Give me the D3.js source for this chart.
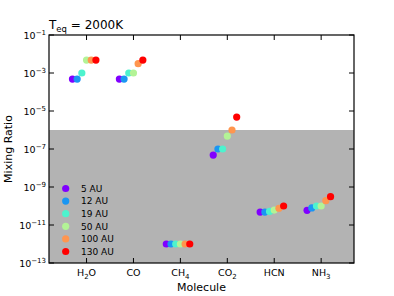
<!DOCTYPE html>
<html><head><meta charset="utf-8">
<script src="https://cdn.jsdelivr.net/npm/d3@7"></script>
<style>body{margin:0;background:#fff}svg{display:block;font-family:"DejaVu Sans",sans-serif}</style>
</head><body><svg id="c" width="394" height="296"></svg>
<script>
const molecules = ["H2O","CO","CH4","CO2","HCN","NH3"];
const moleculeLabels = [["H","2","O"],["CO","",""],["CH","4",""],["CO","2",""],["HCN","",""],["NH","3",""]];
const distances = ["5 AU","12 AU","19 AU","50 AU","100 AU","130 AU"];
const colors = ["#8000ff","#1a96f3","#4df3ce","#b3f396","#ff964f","#ff0000"];
const offsets = [-0.3,-0.2,-0.1,0,0.1,0.2];
const au5   = [4.8e-4, 4.8e-4, 1e-12, 4.8e-8, 4.8e-11, 5.9e-11];
const au12  = [4.8e-4, 4.8e-4, 1e-12, 1e-7,   4.8e-11, 7.9e-11];
const au19  = [1e-3,   1e-3,   1e-12, 1e-7,   5.2e-11, 1e-10];
const au50  = [4.8e-3, 1e-3,   1e-12, 4.8e-7, 6.1e-11, 1e-10];
const au100 = [4.8e-3, 3.1e-3, 1e-12, 1e-6,   7.6e-11, 1.9e-10];
const au130 = [4.8e-3, 4.8e-3, 1e-12, 4.8e-6, 1e-10,   3.1e-10];
const series = [au5, au12, au19, au50, au100, au130];
const yTicks = [1e-1,1e-3,1e-5,1e-7,1e-9,1e-11,1e-13];
const yTickExp = ["−1","−3","−5","−7","−9","−11","−13"];
const shadeTop = 1e-6;

const L=49,R=354,T=35,B=263;
const svg = d3.select("#c");
const x = d3.scaleLinear().domain([-0.8,5.7]).range([L,R]);
const y = d3.scaleLog().domain([1e-13,1e-1]).range([B,T]);

svg.append("rect").attr("x",L).attr("y",y(shadeTop)).attr("width",R-L).attr("height",B-y(shadeTop)).attr("fill","#b3b3b3");

// points
series.forEach((vals,si)=>{
  svg.append("g").selectAll("circle").data(vals).join("circle")
    .attr("cx",(d,i)=>x(i+offsets[si])).attr("cy",d=>y(d)).attr("r",3.6)
    .attr("fill",colors[si]);
});

// ticks inward on all sides
const tl=5;
const g = svg.append("g").attr("stroke","#000").attr("stroke-width",1);
molecules.forEach((m,i)=>{
  g.append("line").attr("x1",x(i)).attr("x2",x(i)).attr("y1",B).attr("y2",B-tl);
  g.append("line").attr("x1",x(i)).attr("x2",x(i)).attr("y1",T).attr("y2",T+tl);
});
yTicks.forEach(t=>{
  g.append("line").attr("x1",L).attr("x2",L+tl).attr("y1",y(t)).attr("y2",y(t));
  g.append("line").attr("x1",R).attr("x2",R-tl).attr("y1",y(t)).attr("y2",y(t));
});
svg.append("rect").attr("x",L).attr("y",T).attr("width",R-L).attr("height",B-T).attr("fill","none").attr("stroke","#000").attr("stroke-width",1.2);

// y tick labels
yTicks.forEach((t,i)=>{
  const tx = svg.append("text").attr("x",L-3).attr("y",y(t)+4).attr("text-anchor","end").attr("font-size",9.5).attr("fill","#000");
  tx.append("tspan").text("10");
  tx.append("tspan").attr("font-size",7).attr("dy",-4.5).text(yTickExp[i]);
});

// x tick labels
moleculeLabels.forEach((lab,i)=>{
  const tx = svg.append("text").attr("x",x(i)).attr("y",B+13).attr("text-anchor","middle").attr("font-size",9.5).attr("fill","#000");
  tx.append("tspan").text(lab[0]);
  if(lab[1]){ tx.append("tspan").attr("font-size",7).attr("dy",2.5).text(lab[1]);
    if(lab[2]) tx.append("tspan").attr("font-size",9.5).attr("dy",-2.5).text(lab[2]); }
});

// axis labels
svg.append("text").attr("x",(L+R)/2).attr("y",291).attr("text-anchor","middle").attr("font-size",11).text("Molecule");
svg.append("text").attr("transform",`translate(12,${(T+B)/2}) rotate(-90)`).attr("text-anchor","middle").attr("font-size",11).text("Mixing Ratio");

// title
const tt = svg.append("text").attr("x",L).attr("y",29).attr("font-size",12);
tt.append("tspan").text("T");
tt.append("tspan").attr("font-size",8.5).attr("dy",3).text("eq");
tt.append("tspan").attr("dy",-3).text(" = 2000K");

// legend
distances.forEach((d,i)=>{
  const yy = 188.5 + i*12.6;
  svg.append("circle").attr("cx",65.7).attr("cy",yy).attr("r",3.6).attr("fill",colors[i]);
  svg.append("text").attr("x",81).attr("y",yy+3.3).attr("font-size",9).text(d);
});
</script></body></html>
